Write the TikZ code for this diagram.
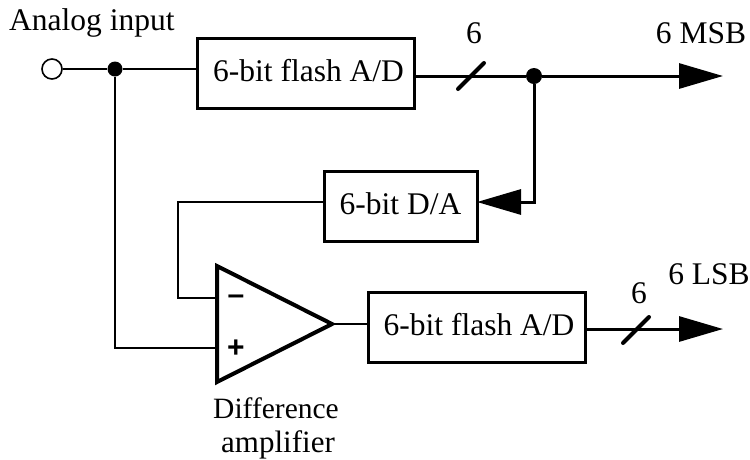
\documentclass[tikz,border=0pt]{standalone}
\usepackage{fontspec}
\setmainfont{Liberation Serif}
\newfontfamily\signfont{Liberation Sans}
\usetikzlibrary{arrows.meta}
\tikzset{
  blockbox/.style={draw,line width=3pt,inner sep=0pt,text height=21pt,text depth=5pt,minimum height=70pt},
  lbl/.style={inner sep=0pt,anchor=base},
  thinwire/.style={line width=1.6pt},
  thickwire/.style={line width=3pt},
  bigarrow/.style={thickwire,-{Triangle[length=44pt,width=25pt]},shorten >=-1pt},
  jdot/.style={circle,fill=black,inner sep=0pt,minimum size=#1},
  ampshape/.style={line width=4pt,line join=miter,miter limit=10},
  sign/.style={inner sep=0pt,font=\signfont\bfseries\fontsize{30}{32}\selectfont}
}
\begin{document}
\begin{tikzpicture}[x=1pt,y=-1pt,font=\fontsize{31.5}{36}\selectfont]
\useasboundingbox (0,0) rectangle (750,459);
% blocks
\node[blockbox,minimum width=217pt] (adc1) at (306,73) {\hspace*{5pt}6-bit flash A/D};
\node[blockbox,minimum width=153pt] (dac) at (400.5,206) {6-bit D/A};
\node[blockbox,minimum width=217pt] (adc2) at (476.5,327) {\hspace*{5pt}6-bit flash A/D};
% amplifier
\coordinate (ampNW) at (217,266);
\coordinate (ampSW) at (217,382);
\coordinate (ampTip) at (332,324);
\draw[ampshape] (ampNW) -- (ampTip) -- (ampSW) -- cycle;
\coordinate (ampMinus) at (217,298);
\coordinate (ampPlus) at (217,348);
\node[sign] (minusSign) at (236,299.5) {\textendash};
\node[sign] (plusSign) at (236,349) {+};
% junctions and terminals
\node[circle,draw,line width=1.6pt,fill=white,minimum size=20pt,inner sep=0pt] (input) at (52,69) {};
\node[jdot=15pt] (split) at (115,69) {};
\node[jdot=16pt] (tap) at (534,76) {};
% analog wires
\draw[thinwire] (input) -- (split);
\draw[thinwire] (split) -- (split -| adc1.west);
\draw[thinwire] (split) |- (ampPlus);
\coordinate (fbCorner) at (178,202);
\draw[thinwire] (dac.west |- fbCorner) -- (fbCorner) |- (ampMinus);
\draw[thinwire] (ampTip) -- (ampTip -| adc2.west);
% digital wires
\coordinate (msbOut) at (722,76);
\coordinate (lsbOut) at (722,329);
\coordinate (dacIn) at (478,202);
\draw[thickwire] (adc1.east |- tap) -- (tap);
\draw[bigarrow] (tap) -- (msbOut);
\draw[bigarrow,rounded corners=0pt] (tap) |- (dacIn);
\draw[bigarrow] (adc2.east |- lsbOut) -- (lsbOut);
% bus slashes
\coordinate (s1a) at (458,89);
\coordinate (s1b) at (484,63);
\coordinate (s2a) at (623,343);
\coordinate (s2b) at (649,317);
\draw[line width=4pt,line cap=round] (s1a) -- (s1b);
\draw[line width=4pt,line cap=round] (s2a) -- (s2b);
% labels
\node[lbl,anchor=base west] (analogLabel) at (9,30) {Analog input};
\node[lbl] (bus1) at (474,43) {6};
\node[lbl] (msb) at (701,43) {6 MSB};
\node[lbl] (bus2) at (639,303) {6};
\node[lbl] (lsb) at (709,284) {6 LSB};
\node[lbl,font=\fontsize{29.5}{34}\selectfont] (diff1) at (276,418) {Difference};
\node[lbl,font=\fontsize{31}{36}\selectfont] (diff2) at (278,452) {amplifier};
\end{tikzpicture}
\end{document}
